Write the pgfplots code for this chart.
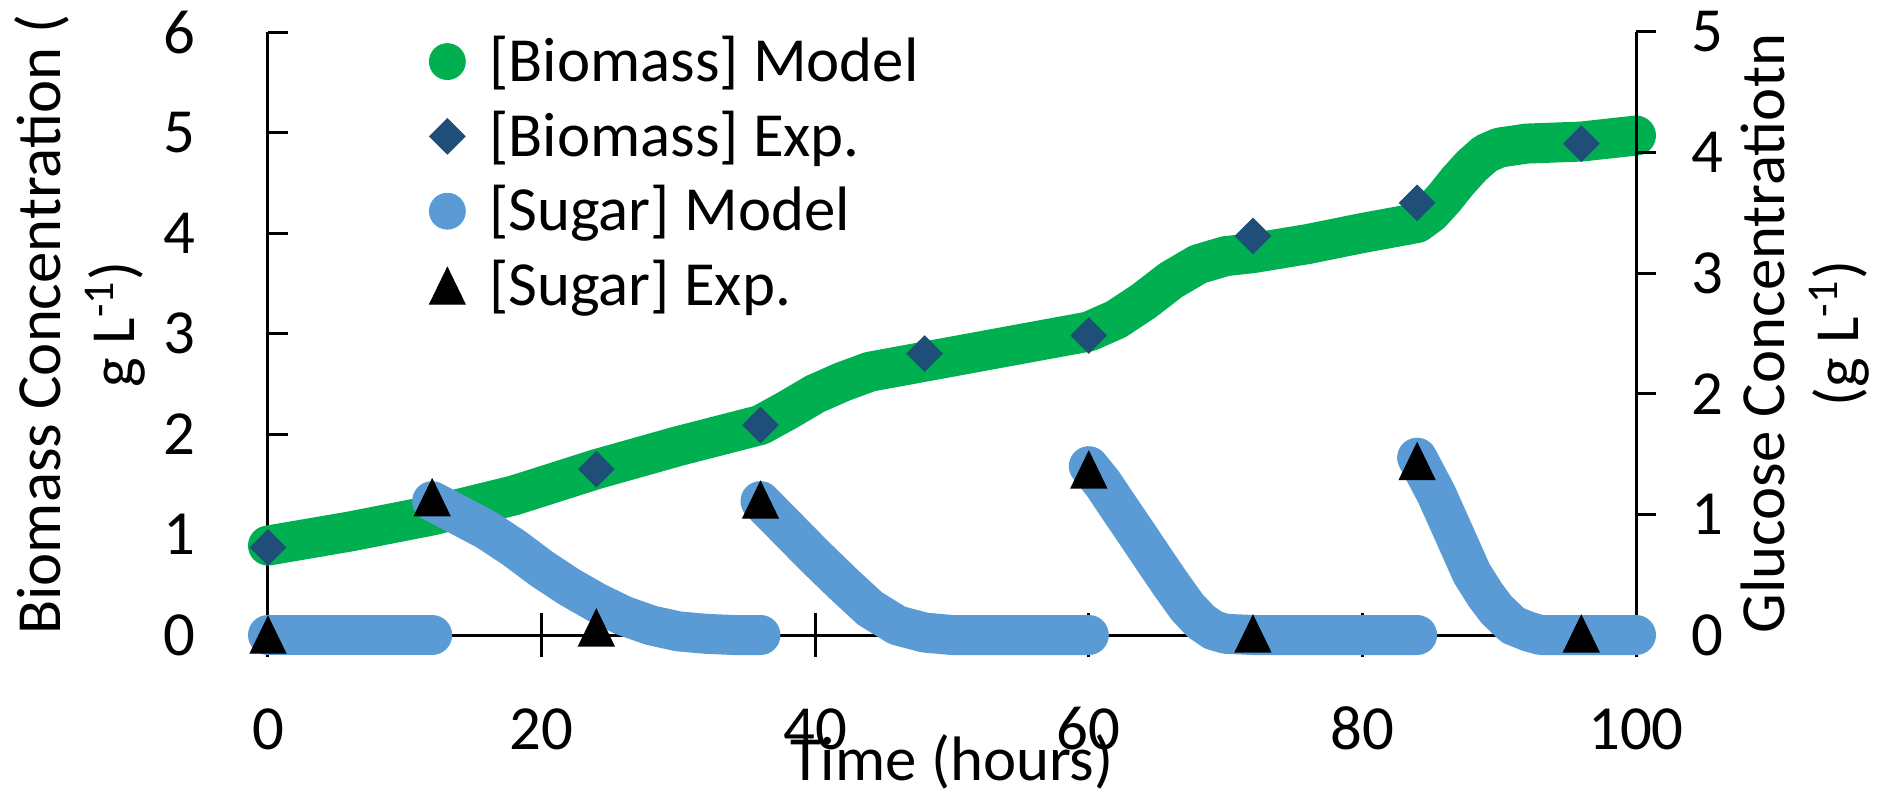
\documentclass[border=0pt]{standalone}
\usepackage{fontspec}
\setmainfont{Carlito}
\usepackage{pgfplots}
\pgfplotsset{compat=1.18}
\definecolor{bmgreen}{HTML}{00B050}
\definecolor{sugblue}{HTML}{5B9BD5}
\definecolor{diamblue}{HTML}{1F4E79}
\pgfplotsset{
  every axis/.append style={font=\fontsize{15.7}{18.5}\selectfont},
  /pgf/number format/assume math mode=true,
  mybase/.style={width=342pt, height=150.75pt, scale only axis,
    at={(0,0)}, anchor=south west, xmin=0, xmax=100, clip=false,
    axis line style={line width=0.75pt, black},
    tick style={line width=0.75pt, black}},
  band/.style={line width=10pt, line cap=round, line join=round},
}
\begin{document}
\begin{tikzpicture}
\begin{axis}[mybase,
  ymin=0, ymax=6,
  axis x line*=bottom, axis y line*=left,
  xtick={0,20,...,100}, ytick={0,1,...,6},
  xtick align=center, ytick align=inside,
  xtick style={/pgfplots/major tick length=11pt},
  ytick style={/pgfplots/major tick length=5pt},
  xticklabel style={anchor=base, inner sep=0pt, yshift=-26.5pt},
  yticklabel style={anchor=east, inner sep=0pt, xshift=-18pt},
  xlabel={Time (hours)},
  every axis x label/.style={at={(axis description cs:0.5,0)}, anchor=base, yshift=-36.25pt},
  ylabel={Biomass Concentration (\\ g L\textsuperscript{-1})},
  every axis y label/.style={at={(axis description cs:-0.1377,0.515)}, rotate=90, anchor=center, align=center},
  legend image code/.code={\path[draw=none, fill=none] (-5pt,-9.35pt) rectangle (5pt,9.35pt); \draw[#1] plot coordinates {(0pt,0pt)};},
  legend cell align=left,
  legend style={draw=none, fill=none, at={(axis description cs:0.1165,1.0130)}, anchor=north west,
    inner sep=0pt, outer sep=0pt, row sep=0pt, column sep=5.5pt, nodes={inner sep=0pt},
    font=\fontsize{15.7}{18.5}\selectfont},
]
\addplot[bmgreen, band, forget plot] coordinates {
(0,0.89) (6,1.03) (12,1.19) (18,1.39) (24,1.65) (30,1.88) (36,2.09)
(38,2.24) (40,2.40) (42,2.52) (44,2.62) (48,2.72) (54,2.87) (60,3.02)
(62,3.14) (64,3.32) (66,3.53) (68,3.69) (70,3.77) (72,3.80) (76,3.89)
(80,4.00) (84,4.10) (85,4.20) (86,4.35) (87,4.52) (88,4.67) (89,4.79)
(90,4.85) (92,4.89) (96,4.91) (100,4.97)
};
\addlegendimage{only marks, mark=*, mark size=4.5pt, mark options={fill=bmgreen, draw=bmgreen, line width=0.2pt}}
\addlegendentry{[Biomass] Model}
\addplot[only marks, mark=square*, mark size=3.1pt,
  mark options={rotate=45, fill=diamblue, draw=diamblue, line width=0.3pt}] coordinates {
(0,0.87) (24,1.65) (36,2.09) (48,2.80) (60,2.98) (72,3.97) (84,4.30) (96,4.89)
};
\addlegendentry{[Biomass] Exp.}
\addlegendimage{only marks, mark=*, mark size=4.5pt, mark options={fill=sugblue, draw=sugblue, line width=0.2pt}}
\addlegendentry{[Sugar] Model}
\addlegendimage{only marks, mark=triangle*, mark size=5.1pt, mark options={fill=black, draw=black, line width=0.3pt, yshift=-1.5pt, yscale=1.19}}
\addlegendentry{[Sugar] Exp.}
\end{axis}
\begin{axis}[mybase,
  ymin=0, ymax=5,
  axis x line=none, axis y line*=right,
  ytick={0,1,...,5},
  ytick align=outside,
  ytick style={/pgfplots/major tick length=5pt},
  yticklabel style={anchor=west, inner sep=0pt, xshift=9.5pt},
  ylabel={Glucose Concentratiotn\\(g L\textsuperscript{-1})},
  every axis y label/.style={at={(axis description cs:1.1238,0.5)}, rotate=90, anchor=center, align=center},
]
\addplot[sugblue, band] coordinates {(0,0) (12,0)};
\addplot[sugblue, band] coordinates {
(12,1.11) (14,0.99) (16,0.87) (18,0.72) (20,0.55) (22,0.40) (24,0.27)
(26,0.16) (28,0.08) (30,0.03) (32,0.01) (34,0) (36,0)
};
\addplot[sugblue, band] coordinates {
(36,1.11) (38,0.88) (40,0.65) (42,0.43) (44,0.22) (46,0.08) (48,0.02) (50,0) (60,0)
};
\addplot[sugblue, band] coordinates {
(60,1.40) (61,1.26) (62.3,1.04) (63.5,0.84) (64.8,0.62) (66,0.42) (67.2,0.23) (68.2,0.11) (69.1,0.04) (70,0.01) (72,0) (84,0)
};
\addplot[sugblue, band] coordinates {
(84,1.47) (85.4,1.17) (86.9,0.79) (88,0.51) (89,0.33) (89.8,0.21) (91,0.08) (92.1,0.03) (93,0) (100,0)
};
\addplot[only marks, mark=triangle*, mark size=5.1pt,
  mark options={fill=black, draw=black, line width=0.3pt, yshift=-1.5pt, yscale=1.19}] coordinates {
(0,0) (12,1.14) (24,0.06) (36,1.12) (60,1.37) (72,0.01) (84,1.44) (96,0.01)
};
\end{axis}
\pgfresetboundingbox
\useasboundingbox (-67pt,-39.25pt) rectangle (403pt,158.75pt);
\end{tikzpicture}
\end{document}
